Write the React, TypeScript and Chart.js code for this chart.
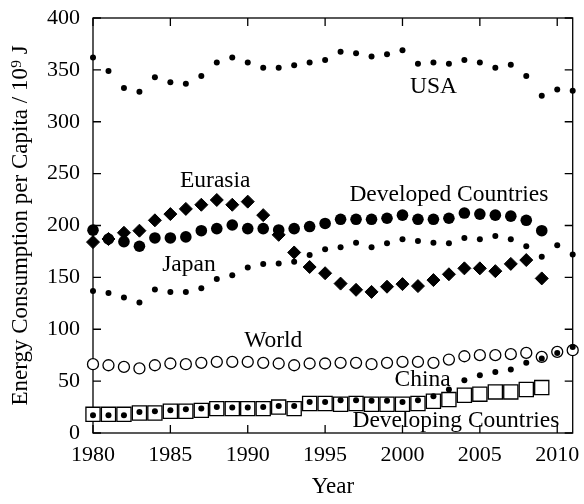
import React, { useEffect, useRef } from "react";
import { Chart, registerables } from "chart.js";

Chart.register(...registerables);

const years = [
  1980, 1981, 1982, 1983, 1984, 1985, 1986, 1987, 1988, 1989,
  1990, 1991, 1992, 1993, 1994, 1995, 1996, 1997, 1998, 1999,
  2000, 2001, 2002, 2003, 2004, 2005, 2006, 2007, 2008, 2009,
  2010, 2011,
];

const usa = [362, 349, 332.5, 329, 343, 338, 336.7, 344, 357, 362, 357, 352, 352, 354.4, 357, 359.5, 367.5, 366, 363, 365, 369, 356, 357, 356, 359.5, 357, 352, 355, 344, 325, 331, 330];
const japan = [136.8, 135, 130.7, 125.9, 138.4, 136, 136, 139.4, 148.4, 152, 159.6, 162.8, 163.3, 165, 171.5, 177, 179, 183.4, 179, 183, 186.7, 185, 183.4, 183, 188, 186.7, 190, 186.7, 180, 170, 181, 172];
const developed = [195.5, 187, 184.4, 180, 188, 188, 189, 195, 197, 200.5, 197, 197, 195.7, 197, 199, 202, 206, 206, 206, 207, 210, 206, 206, 207, 212, 211, 210, 209, 205, 195];
const eurasia = [184, 187, 193, 195, 205, 211, 216, 220, 224.6, 220, 223, 210, 191, 174, 160, 154, 144, 138, 136, 141, 143.5, 141.6, 147.4, 153, 158.7, 158.7, 156, 163, 166.7, 149];
const world = [66.3, 65.3, 63.7, 62.2, 65.3, 67, 66.3, 67.6, 68.5, 68.5, 68.5, 67.6, 67, 65.3, 67, 67, 67.6, 67.6, 66.3, 67.6, 68.5, 68.5, 67.6, 70.8, 74, 75, 75, 76, 77.2, 73.4, 78.2, 79.8];
const china = [17, 17, 17, 20.3, 21, 21.9, 22.9, 23.5, 25.1, 24.5, 24.5, 25, 26, 26, 30, 30, 31.6, 31.6, 31, 31, 30, 31.6, 35.4, 41.9, 50.9, 55.7, 58.9, 61.2, 67.6, 71.8, 77.2, 83];
const developing = [18, 18, 18, 19.3, 19.3, 21, 21, 21.8, 23.5, 23.5, 23.5, 23.5, 25, 23.5, 28.4, 28.4, 27.7, 28.4, 27.7, 27.7, 27.7, 28.4, 30.6, 32.2, 36.4, 37.4, 39.6, 39.6, 41.9, 43.8];

// in-plot labels: text and anchor (year, value at baseline)
const labelTexts = ["USA", "Eurasia", "Developed Countries", "Japan", "World", "China", "Developing Countries"];
const labelYears = [2002.0, 1987.9, 2003.0, 1986.2, 1991.65, 2001.3, 2003.45];
const labelValues = [327.6, 237, 223.5, 156, 82.7, 45, 5.5];

const xTicks = [1980, 1985, 1990, 1995, 2000, 2005, 2010];
const yTicks = [0, 50, 100, 150, 200, 250, 300, 350, 400];

const FONT = '"Liberation Serif", "Times New Roman", Times, serif';

const toPts = (vals: number[]) => vals.map((v, i) => ({ x: years[i], y: v }));

const framePlugin = {
  id: "frame",
  beforeDatasetsDraw(chart: any) {
    const { ctx, chartArea: a, scales } = chart;
    ctx.save();
    ctx.strokeStyle = "#000";
    ctx.lineWidth = 1.3;
    ctx.strokeRect(a.left, a.top, a.right - a.left, a.bottom - a.top);
    const L = 8;
    ctx.beginPath();
    xTicks.forEach((t) => {
      const px = scales.x.getPixelForValue(t);
      ctx.moveTo(px, a.bottom);
      ctx.lineTo(px, a.bottom - L);
      ctx.moveTo(px, a.top);
      ctx.lineTo(px, a.top + L);
    });
    yTicks.forEach((t) => {
      const py = scales.y.getPixelForValue(t);
      ctx.moveTo(a.left, py);
      ctx.lineTo(a.left + L, py);
      ctx.moveTo(a.right, py);
      ctx.lineTo(a.right - L, py);
    });
    ctx.stroke();
    ctx.restore();
  },
};

const labelPlugin = {
  id: "labels",
  afterDatasetsDraw(chart: any) {
    const { ctx, scales } = chart;
    ctx.save();
    ctx.fillStyle = "#000";
    ctx.font = `23.5px ${FONT}`;
    ctx.textAlign = "center";
    ctx.textBaseline = "alphabetic";
    labelTexts.forEach((t, i) => {
      ctx.fillText(t, scales.x.getPixelForValue(labelYears[i]), scales.y.getPixelForValue(labelValues[i]));
    });
    ctx.restore();
  },
};

const zeroPad = (s: any) => {
  s.paddingTop = 0;
  s.paddingBottom = 0;
  s.paddingLeft = 0;
  s.paddingRight = 0;
};

export default function App() {
  const ref = useRef<HTMLCanvasElement>(null);
  useEffect(() => {
    document.body.style.margin = "0";
    const canvas = ref.current!;
    const black = "#000";
    const chart = new Chart(canvas, {
      type: "scatter",
      data: {
        datasets: [
          { label: "China", data: toPts(china), pointStyle: "circle", pointRadius: 3, backgroundColor: black, borderColor: black, borderWidth: 0 },
          { label: "Japan", data: toPts(japan), pointStyle: "circle", pointRadius: 3, backgroundColor: black, borderColor: black, borderWidth: 0 },
          { label: "USA", data: toPts(usa), pointStyle: "circle", pointRadius: 3, backgroundColor: black, borderColor: black, borderWidth: 0 },
          { label: "Eurasia", data: toPts(eurasia), pointStyle: "rectRot", pointRadius: 6.5, backgroundColor: black, borderColor: black, borderWidth: 1 },
          { label: "Developed Countries", data: toPts(developed), pointStyle: "circle", pointRadius: 5.8, backgroundColor: black, borderColor: black, borderWidth: 0 },
          { label: "World", data: toPts(world), pointStyle: "circle", pointRadius: 5.5, backgroundColor: "#fff", borderColor: black, borderWidth: 1.3 },
          { label: "Developing Countries", data: toPts(developing), pointStyle: "rect", pointRadius: 10, backgroundColor: "#fff", borderColor: black, borderWidth: 1.3 },
        ],
      },
      options: {
        responsive: false,
        animation: false,
        events: [],
        clip: false as any,
        layout: { padding: { top: 18, right: 7, left: 0, bottom: 0 } },
        plugins: {
          legend: { display: false },
          tooltip: { enabled: false },
        },
        scales: {
          x: {
            type: "linear",
            min: 1980,
            max: 2011,
            grid: { display: false, drawTicks: false },
            border: { display: false },
            afterFit: (s: any) => { s.height = 71; zeroPad(s); },
            afterBuildTicks: (s: any) => { s.ticks = xTicks.map((v) => ({ value: v })); },
            ticks: {
              color: black,
              font: { family: FONT, size: 22 },
              padding: 9,
              maxRotation: 0,
              autoSkip: false,
              callback: (v: any) => String(v),
            },
            title: {
              display: true,
              text: "Year",
              color: black,
              font: { family: FONT, size: 23 },
              padding: { top: 0, bottom: 3 },
            },
          },
          y: {
            type: "linear",
            min: 0,
            max: 400,
            grid: { display: false, drawTicks: false },
            border: { display: false },
            afterFit: (s: any) => { s.width = 93; zeroPad(s); },
            afterBuildTicks: (s: any) => { s.ticks = yTicks.map((v) => ({ value: v })); },
            ticks: {
              color: black,
              font: { family: FONT, size: 22 },
              padding: 13,
              callback: (v: any) => String(v),
            },
            title: {
              display: true,
              text: "Energy Consumption per Capita / 10⁹ J",
              color: black,
              font: { family: FONT, size: 23 },
              padding: { top: 7, bottom: 0 },
            },
          },
        },
      },
      plugins: [framePlugin, labelPlugin],
    } as any);
    return () => chart.destroy();
  }, []);
  return (
    <div style={{ width: 584, height: 504 }}>
      <canvas ref={ref} width={584} height={504} style={{ display: "block" }} />
    </div>
  );
}
